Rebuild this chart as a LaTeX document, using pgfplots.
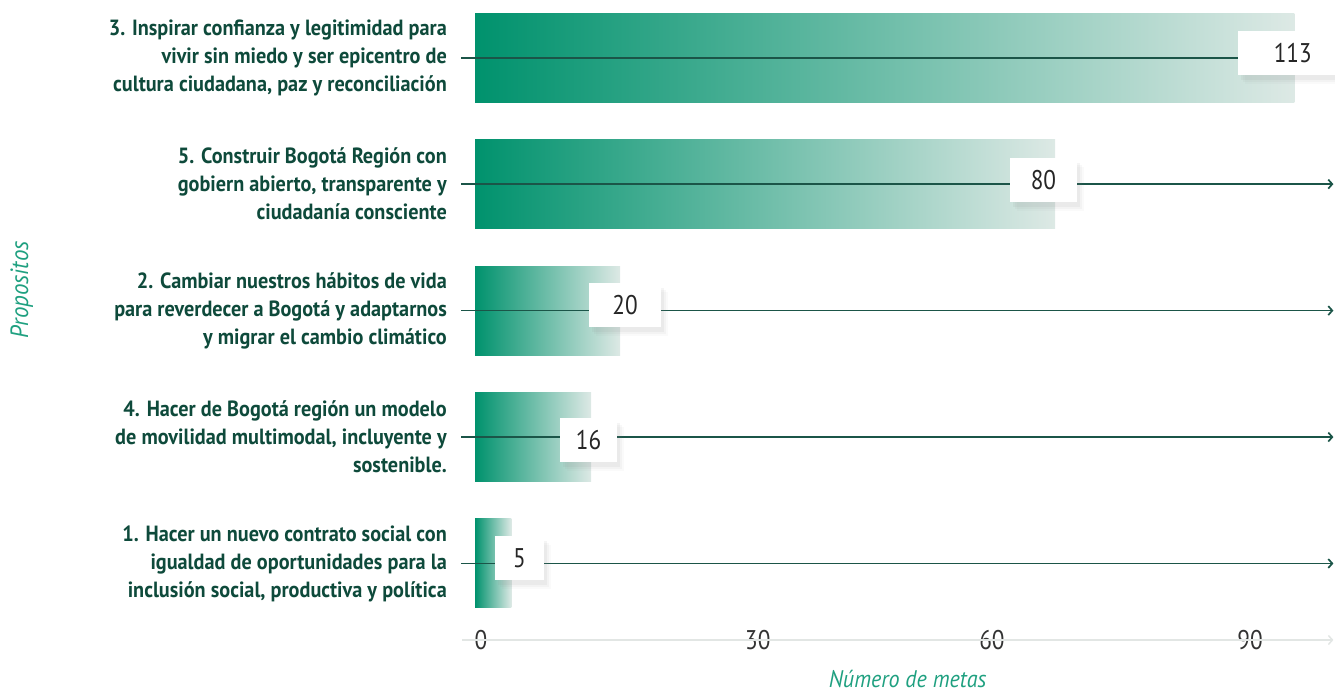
\documentclass[border=0pt]{standalone}
\usepackage{fontspec}
\setmainfont{PT Sans}[FakeStretch=0.92]
\newfontfamily\numfont{PT Sans}[FakeStretch=0.86]
\usepackage{pgfplots}
\pgfplotsset{compat=1.18}
\usetikzlibrary{arrows.meta,shadows}
\definecolor{barg}{HTML}{00926D}
\definecolor{barw}{HTML}{DDE9E5}
\definecolor{linec}{HTML}{1B5548}
\definecolor{labc}{HTML}{0E4A3B}
\definecolor{itc}{HTML}{1FA080}
\definecolor{axc}{HTML}{E2E6E4}
\begin{document}
\begin{tikzpicture}
\begin{axis}[
  at={(475pt,52pt)}, anchor=south west,
  scale only axis, width=860pt, height=640pt,
  xmin=0, xmax=118.62, ymin=-0.605, ymax=4.456,
  clip=false,
  axis line style={draw=none},
  major tick length=0pt, tick style={draw=none},
  /pgf/number format/assume math mode=true,
  xtick={0.83,39.0,71.3,106.9}, xticklabels={0,30,60,90},
  xticklabel style={anchor=center, inner sep=0pt, font=\numfont\fontsize{27}{27}\selectfont, text=black!80},
  ytick={0,1,2,3,4},
  yticklabels={
    {1. Hacer un nuevo contrato social con\\igualdad de oportunidades para la\\inclusión social, productiva y política},
    {4. Hacer de Bogotá región un modelo\\de movilidad multimodal, incluyente y\\sostenible.},
    {2. Cambiar nuestros hábitos de vida\\para reverdecer a Bogotá y adaptarnos\\y migrar el cambio climático},
    {5. Construir Bogotá Región con\\gobiern abierto, transparente y\\ciudadanía consciente},
    {3. Inspirar confianza y legitimidad para\\vivir sin miedo y ser epicentro de\\cultura ciudadana, paz y reconciliación}},
  yticklabel style={align=right, anchor=east, inner sep=0pt, xshift=-28pt, font=\bfseries\fontsize{22}{28}\selectfont, text=labc},
  xlabel={Número de metas},
  xlabel style={at={(axis description cs:0.503,-0.061)}, anchor=center, font=\itshape\fontsize{24}{24}\selectfont, text=itc},
  ylabel={Propositos},
  ylabel style={at={(axis description cs:-0.527,0.547)}, anchor=center, font=\itshape\fontsize{25}{25}\selectfont, text=itc},
  barstyle/.style={xbar, bar shift=0pt, bar width=89pt, draw=none, left color=barg, right color=barw},
  arrline/.style={linec, line width=1.7pt, -{Straight Barb[length=4pt,width=9pt]}},
]
\addplot[barstyle] coordinates {(5,0)};
\addplot[barstyle] coordinates {(16,1)};
\addplot[barstyle] coordinates {(20,2)};
\addplot[barstyle] coordinates {(80,3)};
\addplot[barstyle] coordinates {(113,4)};
\addplot[axc, line width=1.5pt, -{Straight Barb[length=4pt,width=9pt]}] coordinates {(-1.8,-0.605) (118.4,-0.605)};
\addplot[arrline] coordinates {(-1.93,0) (118.4,0)};
\addplot[arrline] coordinates {(-1.93,1) (118.4,1)};
\addplot[arrline] coordinates {(-1.93,2) (118.4,2)};
\addplot[arrline] coordinates {(-1.93,3) (118.4,3)};
\addplot[arrline] coordinates {(-1.93,4) (118.4,4)};
\addplot[draw=none, mark=none, nodes near coords, point meta=explicit symbolic,
  every node near coord/.append style={anchor=center, fill=white, inner xsep=0pt, inner ysep=0pt,
    minimum height=44pt, font=\numfont\fontsize{27}{27}\selectfont, text=black!85,
    drop shadow={shadow xshift=7pt, shadow yshift=-9pt, opacity=0.04},
    drop shadow={shadow xshift=5pt, shadow yshift=-7pt, opacity=0.06},
    drop shadow={shadow xshift=3pt, shadow yshift=-5pt, opacity=0.08}}]
  coordinates {
    (6.14,0.044) [\hbox to 49pt{\hss 5\hss}]
    (15.66,0.976) [\hbox to 57pt{\hss 16\hss}]
    (20.69,2.044) [\hbox to 72pt{\hss 20\hss}]
    (78.4,3.032) [\hbox to 67pt{\hss 80\hss}]
    (112.8,4.04) [\hbox to 110pt{\hss 113\hss}]
  };
\end{axis}
\pgfresetboundingbox
\path[use as bounding box] (0pt,0pt) rectangle (1335pt,692pt);
\end{tikzpicture}
\end{document}
